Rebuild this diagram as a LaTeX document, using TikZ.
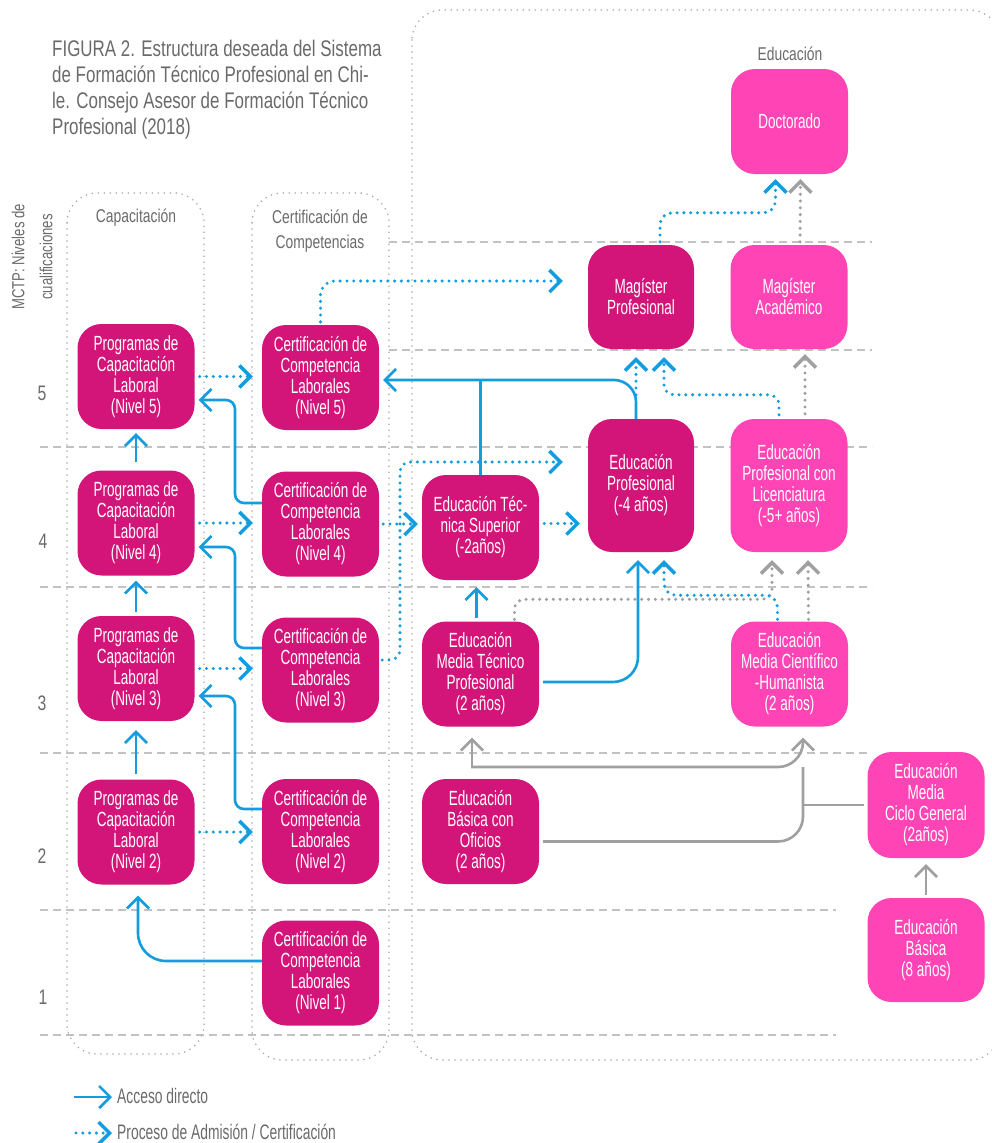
\documentclass[tikz,border=0pt]{standalone}
\usepackage{fontspec}
\setmainfont{Liberation Sans}[FakeStretch=0.75]
\newfontfamily\narrowfont{Liberation Sans}[FakeStretch=0.66]
\usetikzlibrary{arrows.meta,calc}
\definecolor{dmag}{HTML}{D3157A}
\definecolor{pmag}{HTML}{FF45B5}
\definecolor{cblue}{HTML}{139DDE}
\definecolor{cgray}{HTML}{A0A0A0}
\definecolor{tgray}{HTML}{6A6A6A}
\definecolor{gridc}{HTML}{C2C2C2}
\definecolor{colgray}{HTML}{ABABAB}
\tikzset{myhead/.tip={Straight Barb[length=11pt,width=22pt]}}
\begin{document}
\begin{tikzpicture}[x=1pt,y=-1pt,
  box/.style={rounded corners=24pt, minimum width=117pt, minimum height=105pt, inner sep=0pt, align=center, text=white, font=\narrowfont\fontsize{20.5}{21}\selectfont},
  dbox/.style={box, fill=dmag},
  pbox/.style={box, fill=pmag},
  sline/.style={draw=cblue, line width=2.6pt},
  sarr/.style={sline, -myhead},
  dline/.style={draw=cblue, line width=3.4pt, line cap=round, dash pattern=on 0pt off 6.8pt},
  darr/.style={dline, -myhead},
  gline/.style={draw=cgray, line width=2.6pt},
  garr/.style={gline, -myhead},
  gdarr/.style={draw=cgray, line width=3.4pt, line cap=round, dash pattern=on 0pt off 6.8pt, -myhead},
  gridln/.style={draw=gridc, line width=2.2pt, dash pattern=on 8pt off 5pt},
  coldot/.style={draw=colgray, line width=1.8pt, line cap=round, dash pattern=on 0pt off 6pt},
  lab/.style={text=tgray, font=\fontsize{18.5}{25}\selectfont, align=center, inner sep=0pt},
  lvl/.style={text=tgray, font=\fontsize{21}{25}\selectfont, inner sep=0pt},
  legtext/.style={text=tgray, font=\narrowfont\fontsize{21}{24}\selectfont, inner sep=0pt}
]
\useasboundingbox (0,0) rectangle (991,1143);

% grid lines
\draw[gridln] (389,242) -- (872,242);
\draw[gridln] (389,350) -- (872,350);
\draw[gridln] (40,447) -- (872,447);
\draw[gridln] (40,587) -- (872,587);
\draw[gridln] (40,753) -- (872,753);
\draw[gridln] (40,910) -- (836,910);
\draw[gridln] (40,1035) -- (836,1035);

% column frames
\draw[coldot, rounded corners=30pt] (67,193) rectangle (204,1054);
\draw[coldot, rounded corners=30pt] (252,193) rectangle (389,1060);
\draw[coldot, rounded corners=30pt] (412,10) rectangle (1000,1060);

% title and labels
\node[text=tgray, font=\fontsize{22.6}{26}\selectfont, align=left, anchor=north west, inner sep=0pt] (title) at (52,40)
  {FIGURA 2. Estructura deseada del Sistema\\de Formación Técnico Profesional en Chi-\\le. Consejo Asesor de Formación Técnico\\Profesional (2018)};
\node[lab] (lcap) at (136,218) {Capacitación};
\node[lab] (lcert) at (320,231) {Certificación de\\Competencias};
\node[lab] (ledu) at (790,54) {Educación};
\node[text=tgray, font=\fontsize{17.5}{28}\selectfont, align=center, inner sep=0pt, rotate=90] (axis) at (32,257) {MCTP: Niveles de\\cualificaciones};
\node[lvl] (n5) at (42,393) {5};
\node[lvl] (n4) at (43,541) {4};
\node[lvl] (n3) at (42,703) {3};
\node[lvl] (n2) at (42,856) {2};
\node[lvl] (n1) at (43,997) {1};

% boxes
\node[dbox] (P5) at (136,376.5) {Programas de\\Capacitación\\Laboral\\(Nivel 5)};
\node[dbox] (P4) at (136,523) {Programas de\\Capacitación\\Laboral\\(Nivel 4)};
\node[dbox] (P3) at (136,668.5) {Programas de\\Capacitación\\Laboral\\(Nivel 3)};
\node[dbox] (P2) at (136,832) {Programas de\\Capacitación\\Laboral\\(Nivel 2)};
\node[dbox] (C5) at (320.5,377.5) {Certificación de\\Competencia\\Laborales\\(Nivel 5)};
\node[dbox] (C4) at (320.5,524) {Certificación de\\Competencia\\Laborales\\(Nivel 4)};
\node[dbox] (C3) at (320.5,670) {Certificación de\\Competencia\\Laborales\\(Nivel 3)};
\node[dbox] (C2) at (320.5,831.5) {Certificación de\\Competencia\\Laborales\\(Nivel 2)};
\node[dbox] (C1) at (320.5,973) {Certificación de\\Competencia\\Laborales\\(Nivel 1)};
\node[dbox] (ETS) at (480.5,527.5) {Educación Téc-\\nica Superior\\(-2años)};
\node[dbox] (EMTP) at (480.5,674) {Educación\\Media Técnico\\Profesional\\(2 años)};
\node[dbox] (EBO) at (480.5,831.5) {Educación\\Básica con\\Oficios\\(2 años)};
\node[dbox, minimum width=106pt, minimum height=104pt] (MP) at (641,297) {Magíster\\Profesional};
\node[dbox, minimum width=106pt, minimum height=133pt] (EP) at (641,485.5) {Educación\\Profesional\\(-4 años)};
\node[pbox] (DOC) at (789.5,121.5) {Doctorado};
\node[pbox, minimum height=104pt] (MA) at (789,297) {Magíster\\Académico};
\node[pbox, minimum height=133pt] (EPL) at (789,485.5) {Educación\\Profesional con\\Licenciatura\\(-5+ años)};
\node[pbox] (EMCH) at (789.5,674) {Educación\\Media Científico\\-Humanista\\(2 años)};
\node[pbox, minimum height=106pt] (EMCG) at (926,805) {Educación\\Media\\Ciclo General\\(2años)};
\node[pbox, minimum height=104pt] (EB) at (926,950) {Educación\\Básica\\(8 años)};

% capacitación ladder
\draw[sarr, shorten <=5pt, shorten >=9pt] (P2.north) -- (P3.south);
\draw[sarr, shorten <=4pt, shorten >=5pt] (P3.north) -- (P4.south);
\draw[sarr, shorten <=8pt, shorten >=4pt] (P4.north) -- (P5.south);

% programas -> certificación (dotted)
\draw[darr, shorten <=5pt, shorten >=9pt] (P5.east) -- (P5.east -| C5.west);
\draw[darr, shorten <=5pt, shorten >=9pt] (P4.east) -- (P4.east -| C4.west);
\draw[darr, shorten <=5pt, shorten >=9pt] (P3.east) -- (P3.east -| C3.west);
\draw[darr, shorten <=5pt, shorten >=9pt] (P2.east) -- (P2.east -| C2.west);

% certificación -> programas (solid)
\draw[sarr, rounded corners=9pt, shorten >=4pt] (C4.west |- 0,503) -| (235,400) -- (P5.east |- 0,400);
\draw[sarr, rounded corners=9pt, shorten >=4pt] (C3.west |- 0,648) -| (235,547) -- (P4.east |- 0,547);
\draw[sarr, rounded corners=9pt, shorten >=4pt] (C2.west |- 0,809) -| (235,696) -- (P3.east |- 0,696);
\draw[sarr, rounded corners=28pt, shorten >=11pt] (C1.west |- 0,961) -| ($(P2.south)+(2,0)$);

% educación profesional / técnica superior -> certificación 5
\draw[sarr, rounded corners=22pt, shorten >=4pt] ($(EP.north)+(-5,0)$) |- (C5.east |- 0,380);
\draw[sline] (ETS.north) -- (ETS.north |- 0,380);

% to magíster profesional
\draw[darr] ($(EP.north)+(-5,-24)$) -- ($(MP.south)+(-5,8)$);
\draw[darr, rounded corners=10pt] ($(EPL.north)+(-10,-4)$) -- ++(0,-20) -| ($(MP.south)+(23,8)$);
\draw[darr, rounded corners=14pt] ($(C5.north)+(0,-3)$) |- ($(MP.west)+(-25,-16)$);

% to doctorado
\draw[darr, rounded corners=12pt] ($(MP.north)+(19,-3)$) -- ++(0,-29) -| ($(DOC.south)+(-14,5)$);
\draw[gdarr] ($(MA.north)+(11,-3)$) -- ($(DOC.south)+(11,5)$);

% to magíster académico
\draw[gdarr] ($(EPL.north)+(16,-5)$) -- ($(MA.south)+(16,5)$);

% certificación -> técnica superior / profesional
\draw[darr, shorten <=4pt, shorten >=4pt] (C4.east) -- (C4.east -| ETS.west);
\draw[darr, rounded corners=10pt, shorten >=25pt] ($(C3.east)+(3,-10)$) -| (400,462) -- (EP.west |- 0,462);
\draw[darr, shorten <=5pt] ($(ETS.east)+(0,-4)$) -- ($(EP.west)+(-8,38)$);

% media técnico profesional
\draw[sarr] ($(EMTP.north)+(-4,-3)$) -- ($(ETS.south)+(-4,7)$);
\draw[sarr, rounded corners=25pt] ($(EMTP.east)+(4,8)$) -| ($(EP.south)+(-3,8)$);
\draw[gdarr, rounded corners=10pt] ($(EMTP.north)+(34,-2)$) -- ++(0,-20) -| ($(EPL.south)+(-17,8)$);

% media científico humanista
\draw[darr, rounded corners=12pt] ($(EMCH.north)+(-12,-2)$) -- ++(0,-24) -| ($(EP.south)+(23,8)$);
\draw[gdarr] ($(EMCH.north)+(19,-2)$) -- ($(EPL.south)+(19,8)$);

% gray solid access
\coordinate (J) at (803,767);
\draw[garr, rounded corners=25pt] (471,767) -- (J) -- ($(EMCH.south)+(13.5,11)$);
\draw[garr] (472,768.3) -- ($(EMTP.south)+(-8.5,11)$);
\draw[gline, rounded corners=25pt] ($(EBO.east)+(4,10)$) -| (J);
\draw[gline, shorten <=3pt] (EMCG.west) -- (EMCG.west -| J);
\draw[garr] ($(EB.north)+(0,-3)$) -- ($(EMCG.south)+(0,6)$);

% legend
\coordinate (la1) at (74,1097);
\coordinate (la2) at (112,1097);
\draw[sarr] (la1) -- (la2);
\node[legtext, anchor=base west] (lt1) at (117,1103) {Acceso directo};
\coordinate (lb1) at (76,1133);
\coordinate (lb2) at (112,1133);
\draw[darr] (lb1) -- (lb2);
\node[legtext, anchor=base west] (lt2) at (117,1139) {Proceso de Admisión / Certificación};
\end{tikzpicture}
\end{document}
